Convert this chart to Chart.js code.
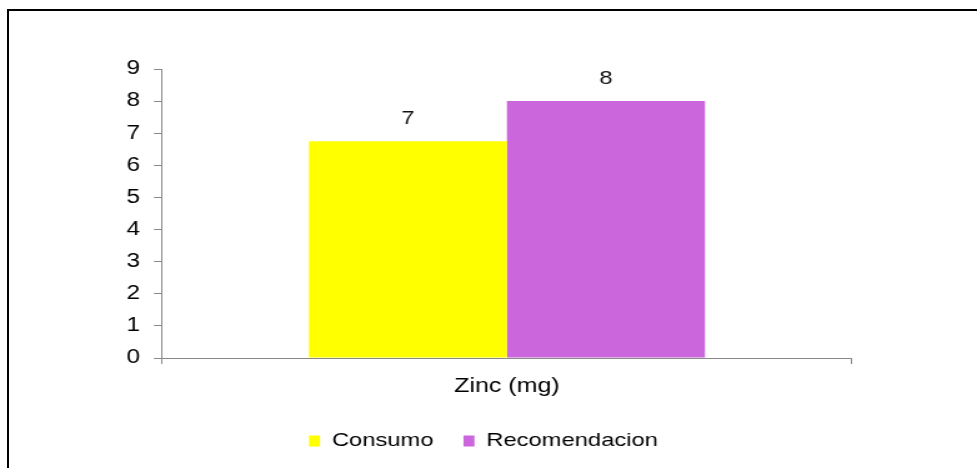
<!DOCTYPE html>
<html>
<head>
<meta charset="utf-8">
<script src="https://cdn.jsdelivr.net/npm/chart.js@4/dist/chart.umd.min.js"></script>
<style>
  html, body { margin: 0; padding: 0; background: #fff; overflow: hidden; }
  #wrap { position: relative; width: 977px; height: 468px; overflow: hidden; background: #fff; }
  #frame { position: absolute; left: 7px; top: 9px; width: 1000px; height: 500px;
           border-top: 2px solid #000; border-left: 2px solid #000; box-sizing: border-box; }
  #chart { position: absolute; left: 0; top: 0; transform-origin: 0 0; }
</style>
</head>
<body>
<div id="wrap">
  <div id="frame"></div>
  <canvas id="chart" width="782" height="468"></canvas>
</div>
<script>
// Daily zinc intake versus the recommended amount
const categories = ['Zinc (mg)'];
const seriesNames = ['Consumo', 'Recomendacion'];
const consumo = [6.75];
const recomendacion = [8];
const yMin = 0;
const yMax = 9;
const yStep = 1;

const FONT = '"Liberation Sans", Arial, sans-serif';
const STRETCH = 977 / 782;

const canvas = document.getElementById('chart');
canvas.style.transform = 'scaleX(' + STRETCH + ')';

// Rounded value printed above each bar
const valueLabels = {
  id: 'valueLabels',
  afterDatasetsDraw(chart) {
    const ctx = chart.ctx;
    ctx.save();
    ctx.font = '19px ' + FONT;
    ctx.fillStyle = '#111';
    ctx.textAlign = 'center';
    ctx.textBaseline = 'middle';
    chart.data.datasets.forEach((ds, i) => {
      chart.getDatasetMeta(i).data.forEach((bar, j) => {
        ctx.fillText(String(Math.round(ds.data[j])), bar.x, bar.y - 22);
      });
    });
    ctx.restore();
  }
};

Chart.defaults.color = '#000';
Chart.defaults.font.family = FONT;

new Chart(canvas, {
  type: 'bar',
  data: {
    labels: categories,
    datasets: [
      { label: seriesNames[0], data: consumo, backgroundColor: '#ffff00', borderWidth: 0 },
      { label: seriesNames[1], data: recomendacion, backgroundColor: '#cc66dd', borderWidth: 0 }
    ]
  },
  options: {
    responsive: false,
    devicePixelRatio: 1,
    animation: false,
    categoryPercentage: 0.574,
    barPercentage: 1,
    layout: { padding: { left: 92, right: 100.1, top: 69, bottom: 7.5 } },
    plugins: {
      legend: {
        position: 'bottom',
        labels: {
          boxWidth: 8.8,
          boxHeight: 11,
          padding: 24,
          color: '#000',
          font: { size: 19, family: FONT }
        }
      },
      tooltip: { enabled: false }
    },
    scales: {
      x: {
        grid: { drawOnChartArea: false, drawTicks: true, tickLength: 6, color: '#888' },
        border: { color: '#888', width: 1 },
        ticks: { padding: 10, color: '#000', font: { size: 20, family: FONT } },
        afterFit(scale) { scale.height = 49.5; }
      },
      y: {
        min: yMin,
        max: yMax,
        grid: { drawOnChartArea: false, drawTicks: true, tickLength: 6.4, color: '#888' },
        border: { color: '#888', width: 1 },
        ticks: { stepSize: yStep, padding: 11.2, color: '#000', font: { size: 19.5, family: FONT } },
        afterFit(scale) { scale.width = 37.6; }
      }
    }
  },
  plugins: [valueLabels]
});
</script>
</body>
</html>
